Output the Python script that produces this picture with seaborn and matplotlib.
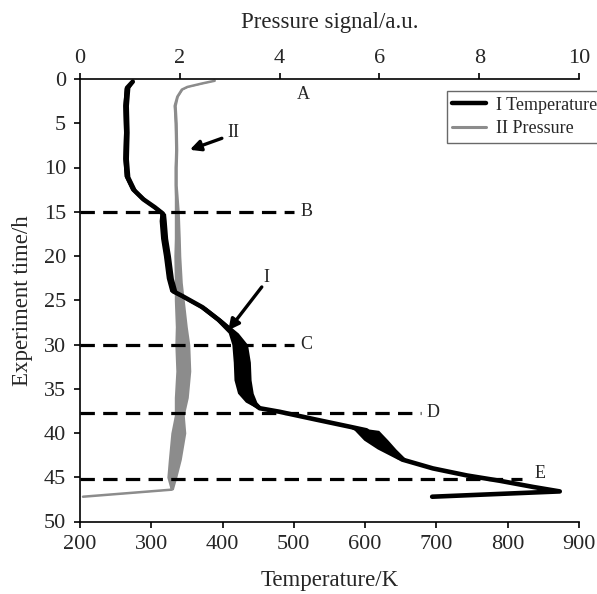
import numpy as np
import pandas as pd
import matplotlib
matplotlib.use("Agg")
import matplotlib.pyplot as plt
import seaborn as sns

# ---- data ----
time_T = [0.3, 1, 3, 6, 9, 11, 12.5, 13.6, 14.5, 15.2, 16, 18, 20, 22.5, 24, 24.5,
          25.8, 27.3, 28.7, 30, 32, 34, 35.5, 36.5, 37.2, 37.6, 38.5, 39.3, 39.7,
          40.8, 41.8, 43.0, 44.0, 44.8, 45.4, 46.1, 46.6, 47.2]
temp = [274, 266, 264, 265, 264, 266, 275, 289, 305, 316, 316, 318, 322, 326, 331, 343,
        372, 396, 415, 424, 427, 428, 432, 440, 452, 480, 532, 579, 602,
        615, 630, 652, 695, 743, 789, 836, 873, 694]
temp_spread = [2, 4, 4, 4, 4, 4, 4, 4, 4, 4, 5, 5, 5, 5, 5, 5,
               5, 5, 7, 11, 12, 12, 11, 8, 4, 3, 3, 3, 17,
               17, 13, 6, 3, 3, 2, 2, 1, 0]

time_P = [0.2, 0.5, 0.9, 1.2, 2, 3, 5, 8, 10, 12, 15, 18, 20, 23, 25, 28, 30, 33, 36,
          38, 40, 43, 45, 46.4, 47.2]
press = [2.70, 2.45, 2.15, 2.04, 1.95, 1.90, 1.92, 1.93, 1.92, 1.92, 1.94, 1.95, 1.95,
         1.97, 1.99, 2.03, 2.05, 2.07, 2.03, 1.99, 1.97, 1.90, 1.84, 1.84, 0.06]
press_spread = [0.0, 0.02, 0.02, 0.02, 0.02, 0.03, 0.03, 0.03, 0.03, 0.03, 0.05, 0.06,
                0.07, 0.08, 0.10, 0.12, 0.15, 0.15, 0.14, 0.10, 0.15, 0.13, 0.10, 0.03, 0.0]

markers_t = [15.0, 30.0, 37.7, 45.2]
markers_end = [500, 500, 678, 820]
letters = ["A", "B", "C", "D", "E"]
letter_T = [513, 518, 518, 695, 845]
letter_t = [1.8, 15.0, 30.0, 37.7, 44.6]

x_ticks = [200, 300, 400, 500, 600, 700, 800, 900]
y_ticks = [0, 5, 10, 15, 20, 25, 30, 35, 40, 45, 50]
top_ticks = [0, 2, 4, 6, 8, 10]

# ---- style ----
sns.set_theme(style="white")
plt.rcParams["font.family"] = ["Liberation Serif", "DejaVu Serif"]
plt.rcParams["axes.linewidth"] = 1.2

fig = plt.figure(figsize=(5.97, 5.94), dpi=100)
ax = fig.add_axes([80 / 597, 1 - 521.5 / 594, 499 / 597, 442.5 / 594])
ax2 = ax.twiny()

GRAY = "#8c8c8c"

dfT = pd.DataFrame({"T": temp, "t": time_T, "s": temp_spread})
dfP = pd.DataFrame({"P": press, "t": time_P, "s": press_spread})

# pressure (top axis)
ax2.fill_betweenx(dfP["t"], dfP["P"] - dfP["s"], dfP["P"] + dfP["s"], color=GRAY, lw=0)
sns.lineplot(data=dfP, x="P", y="t", sort=False, estimator=None, color=GRAY, lw=1.8,
             ax=ax2, label="II Pressure", legend=False)

# temperature (bottom axis)
ax.fill_betweenx(dfT["t"], dfT["T"] - dfT["s"], dfT["T"] + dfT["s"], color="black", lw=0)
sns.lineplot(data=dfT, x="T", y="t", sort=False, estimator=None, color="black", lw=3.3,
             ax=ax, label="I Temperature", legend=False)

# dashed markers
for tt, xe in zip(markers_t, markers_end):
    ax.plot([200, xe], [tt, tt], color="black", lw=2.3, dashes=(4.5, 2.6), zorder=5)

for s, xx, yy in zip(letters, letter_T, letter_t):
    ax.text(xx, yy, s, ha="center", va="center", fontsize=13)

# arrows
ax.annotate("", xy=(354, 8.0), xytext=(399, 6.7),
            arrowprops=dict(arrowstyle="-|>", color="black", lw=2.4, mutation_scale=16,
                            shrinkA=0, shrinkB=0))
ax.text(415, 6.0, "II", ha="center", va="center", fontsize=13)
ax.annotate("", xy=(408, 28.4), xytext=(455, 23.5),
            arrowprops=dict(arrowstyle="-|>", color="black", lw=2.4, mutation_scale=16,
                            shrinkA=0, shrinkB=0))
ax.text(462, 22.4, "I", ha="center", va="center", fontsize=13)

# axes
ax.set_xlim(200, 900)
ax.set_ylim(50, 0)
ax2.set_xlim(0, 10)
ax.set_xticks(x_ticks)
ax.set_yticks(y_ticks)
ax2.set_xticks(top_ticks)
ax.set_xlabel("Temperature/K", fontsize=16.5, labelpad=11)
ax.set_ylabel("Experiment time/h", fontsize=16.5, labelpad=8)
ax2.set_xlabel("Pressure signal/a.u.", fontsize=16.5, labelpad=15)
ax2.set_ylabel("")

for sp in ["top", "right"]:
    ax.spines[sp].set_visible(False)
for sp in ["bottom", "left", "right"]:
    ax2.spines[sp].set_visible(False)
ax2.spines["top"].set_visible(True)
for a in (ax, ax2):
    for sp in a.spines.values():
        sp.set_color("black")
ax.tick_params(axis="both", which="major", direction="out", length=4, width=1.2,
               labelsize=16, color="black", left=True, bottom=True, pad=6)
ax2.tick_params(axis="x", which="major", direction="out", length=4, width=1.2,
                labelsize=16, color="black", top=True, pad=4)
ax.grid(False)
ax2.grid(False)

# temperature axes above pressure axes
ax.set_zorder(ax2.get_zorder() + 1)
ax.patch.set_visible(False)

h1, l1 = ax.get_legend_handles_labels()
h2, l2 = ax2.get_legend_handles_labels()
leg = ax.legend(h1 + h2, l1 + l2, loc="upper left", bbox_to_anchor=(0.735, 0.972),
                borderaxespad=0, fontsize=13, frameon=True, fancybox=False,
                edgecolor="#444444", handlelength=1.9, handletextpad=0.5,
                borderpad=0.3, labelspacing=0.35)
leg.get_frame().set_linewidth(1.0)
leg.legend_handles[0].set_linewidth(3.2)
leg.legend_handles[1].set_linewidth(2.2)
leg.set_zorder(20)

fig.savefig("out.png", dpi=100)
